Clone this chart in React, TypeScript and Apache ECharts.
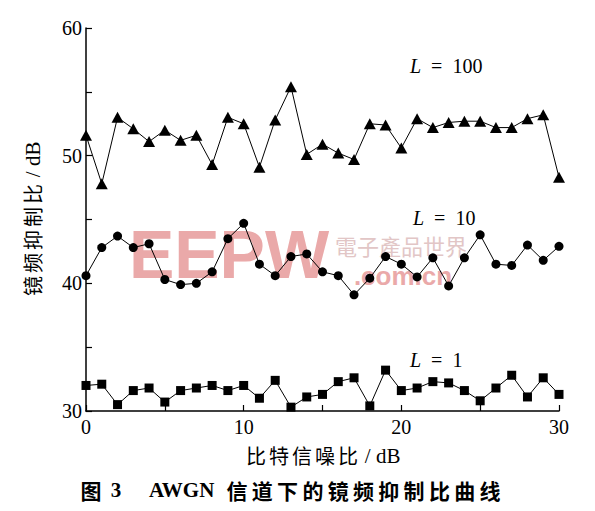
import React, { useEffect, useRef } from "react";
import * as echarts from "echarts";

const snr: number[] = [0,1,2,3,4,5,6,7,8,9,10,11,12,13,14,15,16,17,18,19,20,21,22,23,24,25,26,27,28,29,30];
const l100: number[] = [51.6,47.8,53.0,52.1,51.1,52.0,51.2,51.6,49.3,53.0,52.5,49.1,52.8,55.4,50.1,50.9,50.2,49.7,52.5,52.4,50.6,52.9,52.2,52.6,52.7,52.7,52.2,52.2,52.9,53.2,48.3];
const l10: number[] = [40.6,42.8,43.7,42.8,43.1,40.3,39.9,40.0,40.9,43.5,44.7,41.5,40.6,42.1,42.3,40.9,40.6,39.1,40.4,42.1,41.5,40.5,42.0,39.8,42.0,43.8,41.5,41.4,43.0,41.8,42.9];
const l1: number[] = [32.0,32.1,30.5,31.6,31.8,30.7,31.6,31.8,32.0,31.6,32.0,31.0,32.4,30.3,31.1,31.3,32.3,32.6,30.4,33.2,31.6,31.8,32.3,32.2,31.6,30.8,31.8,32.8,31.1,32.6,31.3];

const seriesNames: string[] = ["L = 100", "L = 10", "L = 1"];
const xTitleCJK = "比特信噪比";
const yTitleCJK = "镜频抑制比";
const titleUnit = " / dB";
const captionFig = "图";
const captionNum = "3";
const captionLatin = "AWGN";
const captionCJK = "信道下的镜频抑制比曲线";

const SERIF = "'Liberation Serif', 'DejaVu Serif', serif";
const CJK = "'Noto Sans CJK SC', sans-serif";

function pairs(v: number[]): number[][] {
  return snr.map((x, i) => [x, v[i]]);
}

function spacedName(cjk: string): string {
  return cjk.split("").map((c) => "{c|" + c + "}").join("") + "{s|" + titleUnit + "}";
}

export default function App() {
  const ref = useRef<HTMLDivElement>(null);
  useEffect(() => {
    if (!ref.current) return;
    const chart = echarts.init(ref.current, null, { renderer: "svg" });
    const lineStyle = { color: "#000", width: 1 };
    const labelRich = {
      i: { fontFamily: SERIF, fontStyle: "italic", fontSize: 20, fill: "#000" },
      n: { fontFamily: SERIF, fontSize: 20, fill: "#000" },
    };
    const nameRich = {
      c: { fontFamily: CJK, fontSize: 20, color: "#000", width: 23, align: "center" },
      s: { fontFamily: SERIF, fontSize: 21, color: "#000" },
    };
    const seriesLabel = (name: string, x: number, y: number) => {
      const rest = name.slice(1).replace(/ = /, "  =  ");
      return {
        type: "text",
        x,
        y,
        z: 10,
        style: {
          text: "{i|L}{n|" + rest + "}",
          rich: labelRich,
          textAlign: "left",
          textVerticalAlign: "middle",
        },
      };
    };
    const capY = 490;
    const caption: any[] = [
      {
        type: "text", x: 91, y: capY, z: 10,
        style: { text: captionFig, fontFamily: CJK, fontWeight: "bold", fontSize: 21, fill: "#000", textAlign: "center", textVerticalAlign: "middle" },
      },
      {
        type: "text", x: 116, y: capY, z: 10,
        style: { text: captionNum, fontFamily: SERIF, fontWeight: "bold", fontSize: 21, fill: "#000", textAlign: "center", textVerticalAlign: "middle" },
      },
      {
        type: "text", x: 149, y: capY, z: 10,
        style: { text: captionLatin, fontFamily: SERIF, fontWeight: "bold", fontSize: 21, fill: "#000", textAlign: "left", textVerticalAlign: "middle" },
      },
      ...captionCJK.split("").map((ch, i) => ({
        type: "text", x: 237 + i * 25.3, y: capY, z: 10,
        style: { text: ch, fontFamily: CJK, fontWeight: "bold", fontSize: 21, fill: "#000", textAlign: "center", textVerticalAlign: "middle" },
      })),
    ];
    chart.setOption({
      animation: false,
      backgroundColor: "#fff",
      grid: { left: 86, top: 28, width: 473, height: 383, containLabel: false },
      xAxis: {
        type: "value",
        min: 0,
        max: 30,
        interval: 5,
        name: spacedName(xTitleCJK),
        nameLocation: "middle",
        nameGap: 34,
        nameTextStyle: { fontFamily: CJK, fontSize: 20, color: "#000", rich: nameRich },
        axisLine: { lineStyle: { color: "#000", width: 1.5 } },
        axisTick: { inside: true, length: 6, lineStyle: { color: "#000", width: 1.2 } },
        axisLabel: {
          fontFamily: SERIF,
          fontSize: 20,
          color: "#000",
          margin: 6,
          formatter: (v: number) => (v % 10 === 0 ? String(v) : ""),
        },
        splitLine: { show: false },
      },
      yAxis: {
        type: "value",
        min: 30,
        max: 60,
        interval: 5,
        name: spacedName(yTitleCJK),
        nameLocation: "middle",
        nameRotate: 90,
        nameGap: 43,
        nameTextStyle: { fontFamily: CJK, fontSize: 20, color: "#000", rich: nameRich },
        axisLine: { show: true, lineStyle: { color: "#000", width: 1.5 } },
        axisTick: { show: true, inside: true, length: 6, lineStyle: { color: "#000", width: 1.2 } },
        axisLabel: {
          fontFamily: SERIF,
          fontSize: 20,
          color: "#000",
          margin: 4,
          formatter: (v: number) => (v % 10 === 0 ? String(v) : ""),
        },
        splitLine: { show: false },
      },
      series: [
        {
          name: seriesNames[0],
          type: "line",
          data: pairs(l100),
          symbol: "triangle",
          symbolSize: [12, 11],
          showAllSymbol: true,
          lineStyle,
          itemStyle: { color: "#000" },
          z: 5,
        },
        {
          name: seriesNames[1],
          type: "line",
          data: pairs(l10),
          symbol: "circle",
          symbolSize: 9,
          showAllSymbol: true,
          lineStyle,
          itemStyle: { color: "#000" },
          z: 5,
        },
        {
          name: seriesNames[2],
          type: "line",
          data: pairs(l1),
          symbol: "rect",
          symbolSize: 9,
          showAllSymbol: true,
          lineStyle,
          itemStyle: { color: "#000" },
          z: 5,
        },
      ],
      graphic: [
        {
          type: "text",
          x: 229,
          y: 254,
          z: 0,
          silent: true,
          style: {
            text: "EEPW",
            fontFamily: "'Liberation Sans', sans-serif",
            fontWeight: 900,
            fontSize: 68,
            fill: "#eaa9a9",
            textAlign: "center",
            textVerticalAlign: "middle",
          },
        },
        {
          type: "text",
          x: 401,
          y: 245,
          z: 0,
          silent: true,
          style: {
            text: "電子產品世界",
            fontFamily: CJK,
            fontSize: 22,
            fill: "#e2c6c6",
            textAlign: "center",
            textVerticalAlign: "middle",
          },
        },
        {
          type: "text",
          x: 403,
          y: 276,
          z: 0,
          silent: true,
          style: {
            text: ".com.cn",
            fontFamily: "'Liberation Sans', sans-serif",
            fontWeight: "bold",
            fontSize: 26,
            fill: "#eaa9a9",
            textAlign: "center",
            textVerticalAlign: "middle",
          },
        },
        seriesLabel(seriesNames[0], 410, 66),
        seriesLabel(seriesNames[1], 413, 218),
        seriesLabel(seriesNames[2], 410, 360),
        ...caption,
      ],
    });
    return () => chart.dispose();
  }, []);
  return (
    <div
      ref={ref}
      style={{ position: "fixed", left: 0, top: 0, width: 595, height: 511, background: "#fff" }}
    />
  );
}
